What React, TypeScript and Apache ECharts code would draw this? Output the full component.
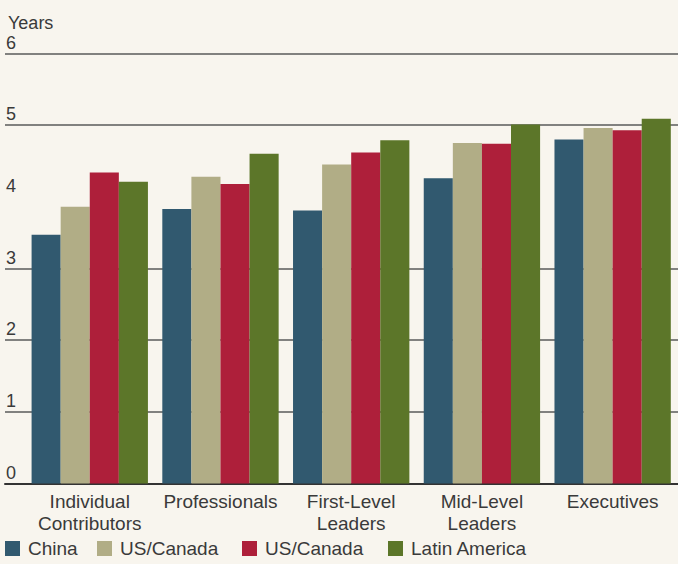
import React, { useEffect, useRef } from "react";
import * as echarts from "echarts";

const categories = [
  "Individual\nContributors",
  "Professionals",
  "First-Level\nLeaders",
  "Mid-Level\nLeaders",
  "Executives",
];
const seriesNames = ["China", "US/Canada", "US/Canada (2)", "Latin America"];
const china = [3.47, 3.83, 3.81, 4.26, 4.8];
const usCanada = [3.86, 4.28, 4.45, 4.75, 4.96];
const usCanada2 = [4.34, 4.18, 4.62, 4.74, 4.93];
const latinAmerica = [4.21, 4.6, 4.79, 5.01, 5.09];
const yTicks = [0, 1, 2, 3, 4, 5, 6];

const colors = ["#31596f", "#b1ad86", "#ae1f3a", "#5c7629"];
const FONT = "'Liberation Sans', Arial, sans-serif";
const TXT = "#3a3a3a";

export default function App() {
  const ref = useRef<HTMLDivElement>(null);
  useEffect(() => {
    if (!ref.current) return;
    const chart = echarts.init(ref.current, null, { renderer: "svg" });
    const values = [china, usCanada, usCanada2, latinAmerica];
    const legendLefts = [5, 97, 242, 388];
    const lineColors = yTicks.map((t) => (t === 4 ? "rgba(0,0,0,0)" : "#5a5a5a"));
    chart.setOption({
      animation: false,
      backgroundColor: "#f8f5ee",
      textStyle: { fontFamily: FONT },
      title: {
        text: "Years",
        left: 3,
        top: 9,
        textStyle: { fontFamily: FONT, fontSize: 18, fontWeight: "normal", color: TXT },
      },
      legend: seriesNames.map((n, i) => ({
        data: [n],
        left: legendLefts[i],
        top: 539,
        itemWidth: 15,
        itemHeight: 15,
        icon: "rect",
        padding: 0,
        selectedMode: false,
        formatter: (name: string) => name.replace(" (2)", ""),
        textStyle: { fontFamily: FONT, fontSize: 19, color: TXT, padding: [0, 0, 0, 3] },
      })),
      grid: [
        { left: 5, right: 0, top: 53.5, bottom: 80.5 },
        { left: 24.4, width: 656.25, top: 53.5, bottom: 80.5 },
      ],
      xAxis: [
        {
          type: "category",
          gridIndex: 0,
          data: categories,
          axisLine: { show: true, lineStyle: { color: "#333", width: 2 } },
          axisTick: { show: false },
          axisLabel: { show: false },
        },
        {
          type: "category",
          gridIndex: 1,
          data: categories,
          axisLine: { show: false },
          axisTick: { show: false },
          axisLabel: {
            margin: 7,
            fontFamily: FONT,
            fontSize: 19,
            lineHeight: 22,
            color: TXT,
            interval: 0,
          },
        },
      ],
      yAxis: [
        {
          type: "value",
          gridIndex: 0,
          min: 0,
          max: 6,
          interval: 1,
          axisLine: { show: false },
          axisTick: { show: false },
          axisLabel: {
            inside: true,
            margin: 1,
            verticalAlign: "bottom",
            padding: [0, 0, 2, 0],
            fontFamily: FONT,
            fontSize: 18,
            color: TXT,
          },
          splitLine: { show: true, lineStyle: { color: lineColors, width: 1.5 } },
        },
        {
          type: "value",
          gridIndex: 1,
          min: 0,
          max: 6,
          interval: 1,
          show: false,
          splitLine: { show: false },
        },
      ],
      series: seriesNames.map((n, i) => ({
        type: "bar",
        name: n,
        xAxisIndex: 1,
        yAxisIndex: 1,
        data: values[i],
        barGap: "0%",
        barCategoryGap: "11%",
        itemStyle: { color: colors[i] },
      })),
    });
    return () => chart.dispose();
  }, []);
  return (
    <div
      ref={ref}
      style={{ position: "absolute", left: 0, top: 0, width: 678, height: 564 }}
    />
  );
}
